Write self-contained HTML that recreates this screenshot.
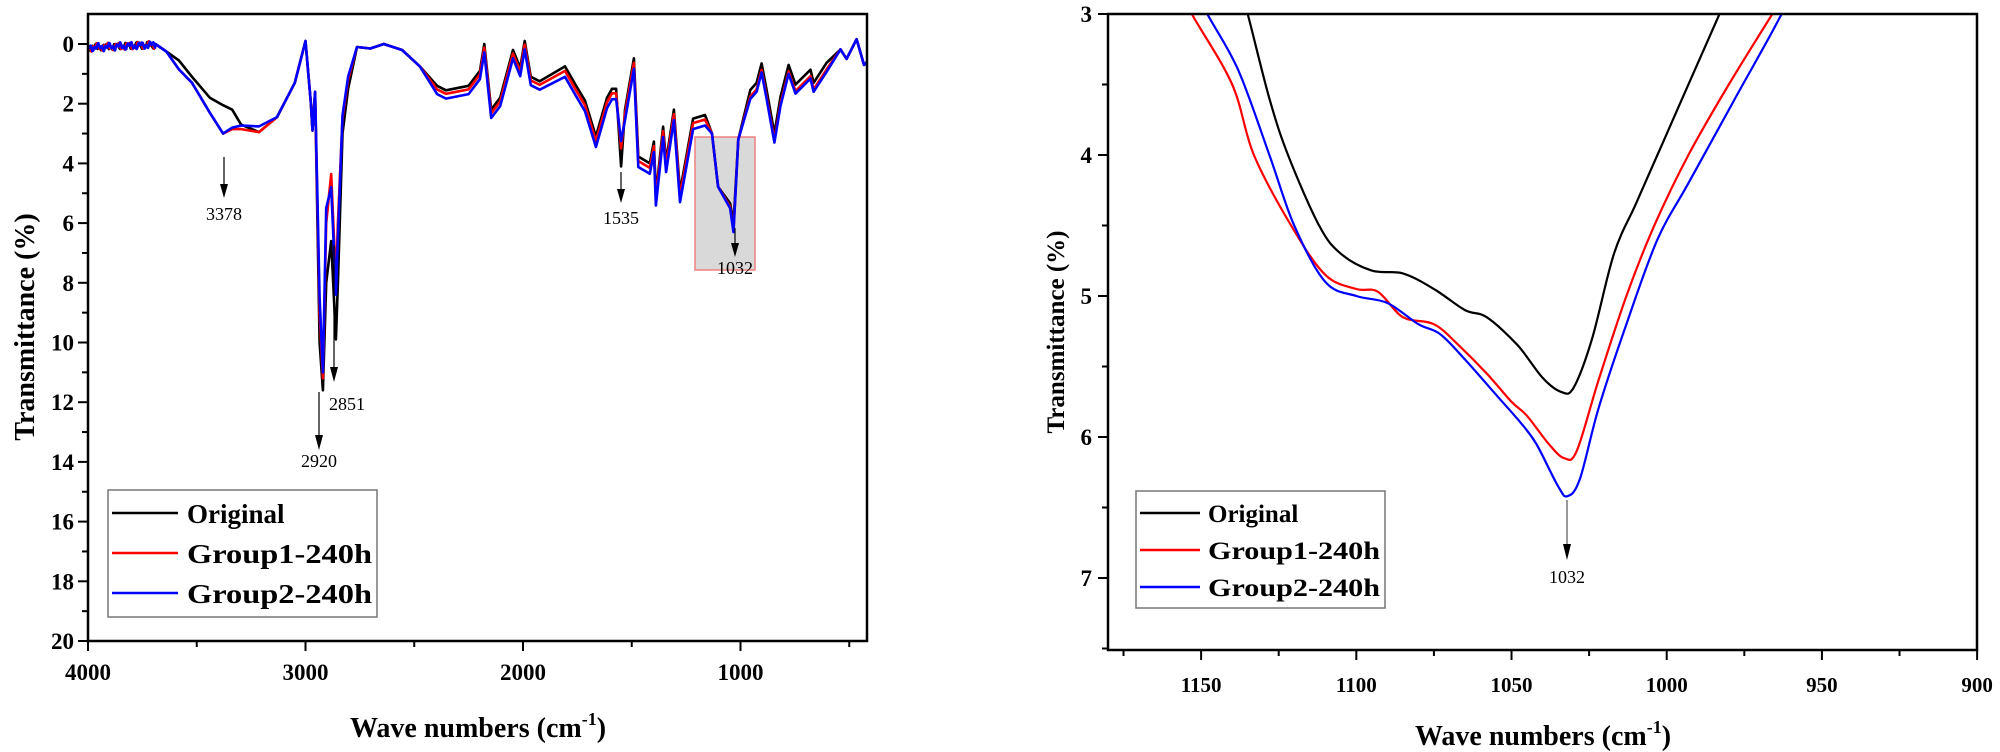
<!DOCTYPE html>
<html><head><meta charset="utf-8"><style>
html,body{margin:0;padding:0;background:#fff;width:2000px;height:752px;overflow:hidden}
svg{display:block}
text{font-family:"Liberation Serif",serif}
.tk{font-size:23px;font-weight:bold}
.tkr{font-size:21px;font-weight:bold}
.ann{font-size:18px}
.lg{font-size:27px;font-weight:bold}
.ax{font-size:28px;font-weight:bold}
</style></head><body>
<svg id="s" width="2000" height="752" xmlns="http://www.w3.org/2000/svg">
<defs>
<clipPath id="cl"><rect x="88" y="14" width="779" height="627"/></clipPath>
<clipPath id="cr"><rect x="1108" y="14" width="869" height="636"/></clipPath>
</defs>
<rect x="695" y="137" width="60" height="133" fill="#d9d9d9" stroke="#f08080" stroke-width="1.5"/>
<g id="lseries" clip-path="url(#cl)" fill="none" stroke-width="2.6" stroke-linejoin="round"></g>
<g id="rseries" clip-path="url(#cr)" fill="none" stroke-width="2.2" stroke-linejoin="round"></g>
<g id="axes" stroke="#000" fill="none"></g>
<g id="labels"></g>

<g stroke="#000" stroke-width="1.2">
<line x1="224" y1="157" x2="224" y2="185"/>
<line x1="621" y1="172" x2="621" y2="190"/>
<line x1="735" y1="228" x2="735" y2="244"/>
<line x1="334" y1="245" x2="334" y2="368"/>
<line x1="319" y1="392" x2="319" y2="436"/>
<line x1="1567" y1="500" x2="1567" y2="545" stroke="#555"/>
</g>
<g fill="#000">
<polygon points="220,184 228,184 224,198"/>
<polygon points="617,189 625,189 621,203"/>
<polygon points="731,243 739,243 735,257"/>
<polygon points="330,367 338,367 334,382"/>
<polygon points="315,435 323,435 319,450"/>
<polygon points="1563,544 1571,544 1567,560"/>
</g>
<text class="ann" x="224" y="220" text-anchor="middle">3378</text>
<text class="ann" x="621" y="224" text-anchor="middle">1535</text>
<text class="ann" x="735" y="274" text-anchor="middle">1032</text>
<text class="ann" x="347" y="410" text-anchor="middle">2851</text>
<text class="ann" x="319" y="467" text-anchor="middle">2920</text>
<text class="ann" x="1567" y="583" text-anchor="middle">1032</text>

<rect x="108" y="490" width="269" height="127" fill="#fff" stroke="#777" stroke-width="1.5"/>
<line x1="112" y1="513" x2="178" y2="513" stroke="#000" stroke-width="2.5"/>
<line x1="112" y1="553" x2="178" y2="553" stroke="#f00" stroke-width="2.5"/>
<line x1="112" y1="593" x2="178" y2="593" stroke="#00f" stroke-width="2.5"/>
<text class="lg" x="187" y="523">Original</text>
<text class="lg" x="187" y="563" textLength="185" lengthAdjust="spacingAndGlyphs">Group1-240h</text>
<text class="lg" x="187" y="603" textLength="185" lengthAdjust="spacingAndGlyphs">Group2-240h</text>

<rect x="1136" y="491" width="249" height="117" fill="#fff" stroke="#777" stroke-width="1.5"/>
<line x1="1140" y1="513" x2="1200" y2="513" stroke="#000" stroke-width="2.5"/>
<line x1="1140" y1="550" x2="1200" y2="550" stroke="#f00" stroke-width="2.5"/>
<line x1="1140" y1="587" x2="1200" y2="587" stroke="#00f" stroke-width="2.5"/>
<text class="lg" style="font-size:25px" x="1208" y="522">Original</text>
<text class="lg" style="font-size:25px" x="1208" y="559" textLength="172" lengthAdjust="spacingAndGlyphs">Group1-240h</text>
<text class="lg" style="font-size:25px" x="1208" y="596" textLength="172" lengthAdjust="spacingAndGlyphs">Group2-240h</text>

<text class="ax" x="478" y="737" text-anchor="middle">Wave numbers (cm<tspan dy="-12" font-size="18">-1</tspan><tspan dy="12">)</tspan></text>
<text class="ax" x="1543" y="745" text-anchor="middle">Wave numbers (cm<tspan dy="-12" font-size="18">-1</tspan><tspan dy="12">)</tspan></text>
<text class="ax" transform="translate(34,327) rotate(-90)" text-anchor="middle">Transmittance (%)</text>
<text class="ax" style="font-size:25px" transform="translate(1064,332) rotate(-90)" text-anchor="middle">Transmittance (%)</text>
</svg>
<script>
(function(){
var NS="http://www.w3.org/2000/svg";
function el(p,t,a,txt){var e=document.createElementNS(NS,t);for(var k in a)e.setAttribute(k,a[k]);if(txt!=null)e.textContent=txt;p.appendChild(e);return e;}
var LX=function(w){return 88+(4000-w)*0.2175;}, LY=function(v){return 44+v*29.85;};
var RX=function(w){return 1108+(1180-w)*3.104;}, RY=function(v){return 14+(v-3)*141;};
var black=[[3690,0],[3640,0.25],[3582,0.55],[3522,1.1],[3440,1.8],[3379,2.05],[3337,2.2],[3296,2.7],[3214,2.95],[3131,2.45],[3049,1.3],[3000,-0.1],[2975,2.0],[2968,2.9],[2956,1.6],[2935,10],[2920,11.6],[2905,8],[2882,6.6],[2860,9.9],[2851,8],[2830,3],[2804,1.5],[2763,0.1],[2702,0.15],[2640,0],[2556,0.2],[2474,0.75],[2395,1.4],[2354,1.55],[2250,1.4],[2198,0.9],[2178,0],[2146,2.2],[2105,1.8],[2046,0.2],[2013,0.8],[1992,-0.1],[1964,1.1],[1923,1.25],[1807,0.75],[1756,1.4],[1715,1.9],[1665,3.1],[1614,1.8],[1591,1.5],[1572,1.5],[1549,4.1],[1531,2.2],[1490,0.48],[1470,3.77],[1417,4.0],[1398,3.27],[1389,5.06],[1356,2.77],[1342,3.94],[1306,2.2],[1278,4.95],[1218,2.5],[1163,2.38],[1131,3.0],[1103,4.78],[1048,5.34],[1032,6.0],[1010,3.2],[955,1.54],[926,1.3],[903,0.65],[880,1.54],[844,3.0],[816,1.77],[779,0.7],[747,1.36],[678,0.86],[664,1.3],[604,0.63],[540,0.18],[512,0.5],[466,-0.16],[432,0.7],[418,0.6]];
var rO={3582:0.85,3522:1.3,3440:2.3,3379:3.0,3337:2.85,3296:2.85,3214:2.95,2935:9,2920:11.2,2905:6,2882:4.36,2860:8.0,2851:6,2830:2.5,2804:1.2,1549:3.5,1032:6.25,1048:5.45};
var bO={3582:0.85,3522:1.3,3440:2.3,3379:3.0,3337:2.8,3296:2.73,3214:2.76,2935:8.5,2920:11.0,2905:5.5,2882:4.8,2860:8.4,2851:6.5,2830:2.4,2804:1.1,1549:3.25,1032:6.3,1048:5.5};
function noiseHead(seed,amp){var a=[];for(var w=4000;w>3690;w-=4){var n=Math.sin(w*1.7+seed)*0.5+Math.sin(w*0.37+seed*2)*0.5;a.push([w,0.12-(4000-w)*0.0003+n*amp]);}return a;}
function variant(O,o1,o2,o3){return black.map(function(p){var w=p[0],v=p[1];if(O[w]!=null)return[w,O[w]];if(w<2450&&w>1900)v+=o1;else if(w<=1900&&w>1150)v+=o2;else if(w<1000&&w>600)v+=o3;return[w,v];});}
var series=[["#000",noiseHead(1,0.12).concat(black)],["#f00",noiseHead(2,0.14).concat(variant(rO,0.12,0.15,0.22))],["#00f",noiseHead(3,0.14).concat(variant(bO,0.28,0.35,0.3))]];
var lg=document.getElementById("lseries");
series.forEach(function(s){el(lg,"polyline",{points:s[1].map(function(p){return LX(p[0]).toFixed(1)+","+LY(p[1]).toFixed(1);}).join(" "),stroke:s[0]});});
var rb=[[1140,2.6],[1135,3],[1128,3.6],[1122,4.0],[1112,4.5],[1105,4.7],[1095,4.82],[1085,4.84],[1075,4.95],[1065,5.1],[1058,5.15],[1048,5.35],[1040,5.58],[1034,5.68],[1030,5.65],[1024,5.3],[1017,4.7],[1010,4.35],[1003,4.0],[995,3.6],[983,3.0],[975,2.6]];
var rr=[[1160,2.7],[1153,3],[1140,3.5],[1133,4.0],[1121,4.5],[1110,4.85],[1100,4.95],[1093,4.97],[1085,5.15],[1075,5.2],[1067,5.35],[1058,5.55],[1050,5.75],[1045,5.85],[1038,6.05],[1033,6.15],[1029,6.1],[1022,5.6],[1013,5.0],[1004,4.5],[993,4.0],[980,3.5],[966,3.0],[955,2.6]];
var rbl=[[1155,2.7],[1148,3],[1138,3.4],[1128,4.0],[1120,4.5],[1110,4.9],[1100,5.0],[1090,5.05],[1080,5.2],[1073,5.27],[1065,5.45],[1055,5.7],[1047,5.9],[1042,6.05],[1035,6.35],[1032,6.42],[1028,6.3],[1022,5.8],[1013,5.2],[1003,4.6],[993,4.2],[978,3.6],[963,3.0],[955,2.6]];
function smooth(pts){var P=pts.map(function(p){return[RX(p[0]),RY(p[1])];});var d="M"+P[0][0]+","+P[0][1];for(var i=0;i<P.length-1;i++){var p0=P[i-1]||P[i],p1=P[i],p2=P[i+1],p3=P[i+2]||p2;var c1=[p1[0]+(p2[0]-p0[0])/6,p1[1]+(p2[1]-p0[1])/6],c2=[p2[0]-(p3[0]-p1[0])/6,p2[1]-(p3[1]-p1[1])/6];d+=" C"+c1[0].toFixed(1)+","+c1[1].toFixed(1)+" "+c2[0].toFixed(1)+","+c2[1].toFixed(1)+" "+p2[0].toFixed(1)+","+p2[1].toFixed(1);}return d;}
var rg=document.getElementById("rseries");
[["#000",rb],["#f00",rr],["#00f",rbl]].forEach(function(s){el(rg,"path",{d:smooth(s[1]),stroke:s[0]});});
var ax=document.getElementById("axes"),lb=document.getElementById("labels");
el(ax,"rect",{x:88,y:14,width:779,height:627,"stroke-width":2.5});
el(ax,"rect",{x:1108,y:14,width:869,height:636,"stroke-width":2.5});
for(var v=0;v<=20;v++){var y=LY(v);el(ax,"line",{x1:88,x2:v%2?82:78,y1:y,y2:y,"stroke-width":2});if(v%2==0)el(lb,"text",{x:74,y:y+8,"text-anchor":"end","class":"tk"},String(v));}
for(var w=4000;w>=500;w-=500){var x=LX(w);el(ax,"line",{x1:x,x2:x,y1:641,y2:w%1000?647:651,"stroke-width":2});if(w%1000==0)el(lb,"text",{x:x,y:680,"text-anchor":"middle","class":"tk"},String(w));}
for(var v=3;v<=7.5;v+=0.5){var y=RY(v);el(ax,"line",{x1:1108,x2:(v%1)?1102:1098,y1:y,y2:y,"stroke-width":2});if(v%1==0&&v<=7)el(lb,"text",{x:1092,y:y+8,"text-anchor":"end","class":"tk"},String(v));}
for(var w=1175;w>=900;w-=25){var x=RX(w);el(ax,"line",{x1:x,x2:x,y1:650,y2:w%50?656:660,"stroke-width":2});if(w%50==0)el(lb,"text",{x:x,y:692,"text-anchor":"middle","class":"tkr"},String(w));}
})();
</script>
</body></html>
